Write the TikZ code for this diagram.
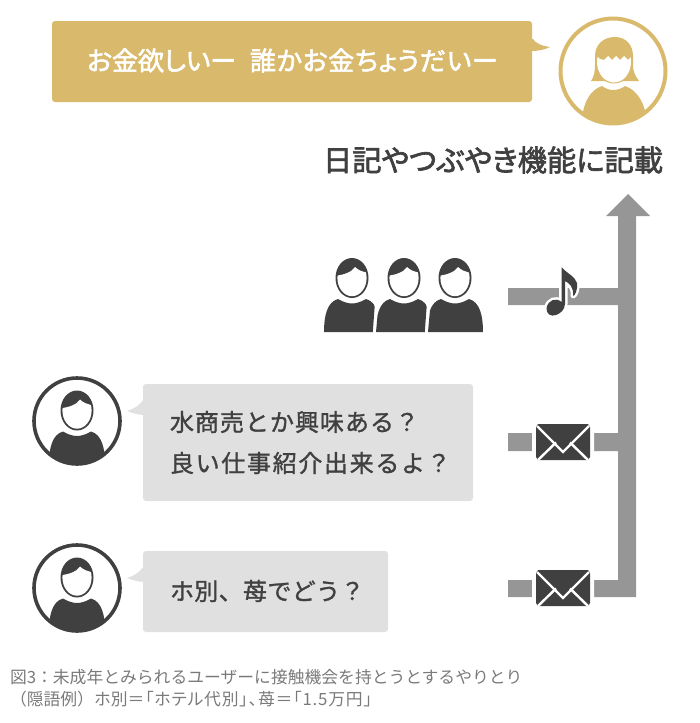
\documentclass[tikz,border=0pt]{standalone}
\usepackage{fontspec}
\setmainfont{Noto Sans CJK JP}
\newfontfamily\headfont[FakeBold=2.2,RawFeature=+palt]{Noto Sans CJK JP}
\newfontfamily\headwide[FakeBold=2.2,RawFeature=+palt,LetterSpace=2.7]{Noto Sans CJK JP}
\newfontfamily\talkfont[FakeBold=1.2,LetterSpace=4.2]{Noto Sans CJK JP}
\newfontfamily\talkwide[FakeBold=1.2,LetterSpace=7]{Noto Sans CJK JP}
\newfontfamily\talktight[FakeBold=1.2,LetterSpace=1.5]{Noto Sans CJK JP}
\newfontfamily\notefont{Noto Sans CJK JP}
\newfontfamily\notetight[RawFeature=+palt,LetterSpace=5]{Noto Sans CJK JP}
\definecolor{gold}{HTML}{D9B96B}
\definecolor{ink}{HTML}{404040}
\definecolor{barfill}{HTML}{969696}
\definecolor{paper}{HTML}{E0E0E0}
\definecolor{caption}{HTML}{7A7A7A}
\tikzset{
  txt/.style={inner sep=0pt,outer sep=0pt,anchor=west},
  pics/malehead/.style={code={
    \fill[ink] (0,0) ellipse [x radius=16.5,y radius=20];
    \begin{scope}
      \clip (-18,-2) .. controls (-8,-3) and (0,-6) .. (3,-11)
            .. controls (6,-8) and (10,-6) .. (18,-5) -- (18,22) -- (-18,22) -- cycle;
      \fill[white] (0,0) ellipse [x radius=14.6,y radius=18.2];
    \end{scope}
  }},
  pics/malebody/.style={code={
    \fill[#1] (-28,54) .. controls (-28,38) and (-25,24) .. (-14,21)
      .. controls (-9,24) and (-4,25.5) .. (0,25.5)
      .. controls (4,25.5) and (9,24) .. (14,21)
      .. controls (25,24) and (28,38) .. (28,54) -- cycle;
  }},
  pics/envelope/.style={code={
    \fill[ink,draw=white,line width=8pt,line join=round]
      (-25,-18) -- (25,-18) -- (27,-15) -- (27,15) -- (25,18)
      -- (-25,18) -- (-27,15) -- (-27,-15) -- cycle;
    \fill[ink] (-25,-18) -- (25,-18) -- (27,-15) -- (27,15) -- (25,18)
      -- (-25,18) -- (-27,15) -- (-27,-15) -- cycle;
    \draw[white,line width=2.4pt] (-26,-16) -- (0,10) -- (26,-16);
    \draw[white,line width=2.4pt] (-25,18) -- (-7,0.5);
    \draw[white,line width=2.4pt] (25,18) -- (7,0.5);
  }}
}
\begin{document}
\begin{tikzpicture}[x=1pt,y=-1pt]
\useasboundingbox (0,0) rectangle (700,723);

% post bubble at the top
\fill[gold,rounded corners=3pt] (52,21) rectangle (532,102);
\fill[gold] (531,39) -- (533,39) .. controls (535,43) and (542,46) .. (550,47)
  .. controls (544,50) and (538,51) .. (531,51) -- cycle;
\node[txt,text=white] (want) at (87,60.5)
  {\fontsize{26}{30}\headfont お金欲しいー\hspace{14pt}\headwide 誰かお金ちょうだいー};

% author portrait
\draw[gold,line width=4pt] (613,71) circle [radius=52.5];
\begin{scope}
  \clip (613,71) circle [radius=52];
  \fill[gold] (581,125) .. controls (583,102) and (590,90) .. (602,86)
    .. controls (606,89) and (610,90) .. (613,90)
    .. controls (617,90) and (621,89) .. (625,86)
    .. controls (637,90) and (645,102) .. (648,125) -- cycle;
\end{scope}
\fill[gold] (591,81) .. controls (594,77) and (595,72) .. (595,64)
  -- (595,56) .. controls (595,45) and (603,37) .. (615,37)
  .. controls (626,37) and (633,45) .. (633,56)
  -- (633,66) .. controls (633,72) and (636,77) .. (639,81) -- cycle;
\fill[gold] (614,65) ellipse [x radius=18,y radius=18.5];
\begin{scope}
  \clip (596,55.5) -- (600,59) -- (604,60) -- (608,56) -- (612,60) -- (616,56)
    -- (620,60) -- (624,56) -- (628,60) -- (632,55.5) -- (634,85) -- (594,85) -- cycle;
  \fill[white] (614,62) ellipse [x radius=17,y radius=20.5];
\end{scope}

\node[txt,text=ink] (headline) at (323,160)
  {\fontsize{29.3}{34}\headfont 日記やつぶやき機能に記載};

% spine arrow with its three branches
\coordinate (tip) at (628,194);
\fill[barfill] (tip) -- (650,216) -- (636,216) -- (636,597) -- (508,597) -- (508,580)
  -- (618,580) -- (618,451) -- (508,451) -- (508,433) -- (618,433)
  -- (618,305) -- (508,305) -- (508,288) -- (618,288) -- (618,216) -- (606,216) -- cycle;

% music note on the first branch
\def\notepath{(561.5,267) -- (561.5,302) .. controls (556,297) and (548,300) .. (546.5,308)
  .. controls (546,314) and (551,317) .. (556,315)
  .. controls (561,313) and (564.5,310) .. (565,304) -- (565,281)
  .. controls (569,283) and (574,287) .. (573,296)
  .. controls (575,296) and (578,289) .. (577,283)
  .. controls (575,276) and (566,273) .. (561.5,267) -- cycle}
\fill[white,draw=white,line width=5pt,line join=round] \notepath;
\fill[ink] \notepath;

% envelopes on the two lower branches
\pic at (563,442) {envelope};
\pic at (563,588) {envelope};

% audience of three
\pic at (352,278) {malehead};
\pic at (404,278) {malehead};
\pic at (455,278) {malehead};
\begin{scope}
  \clip (320,295) -- (375.5,295) -- (372.8,332) -- (320,332) -- cycle;
  \pic at (352,278) {malebody=ink};
\end{scope}
\begin{scope}
  \clip (372,295) -- (427.5,295) -- (424.8,332) -- (376,332) -- (378,310) -- cycle;
  \pic at (404,278) {malebody=ink};
\end{scope}
\begin{scope}
  \clip (431,295) -- (490,295) -- (490,332) -- (428,332) -- (430,310) -- cycle;
  \pic at (455,278) {malebody=ink};
\end{scope}

% first solicitor
\draw[ink,line width=3.6pt] (77,421) circle [radius=43];
\pic at (77,410.5) {malehead};
\begin{scope}
  \clip (77,421) circle [radius=42];
  \pic at (77,410.5) {malebody=ink};
\end{scope}
\fill[paper,rounded corners=3pt] (143,384) rectangle (473,501);
\fill[paper] (144,399) .. controls (140,405) and (134,409) .. (127,411)
  .. controls (133,413) and (138,415) .. (144,415) -- cycle;
\node[txt,text=ink] (lineA) at (170,422) {\fontsize{24}{28}\talkfont 水商売とか興味ある？};
\node[txt,text=ink] (lineB) at (170,463) {\fontsize{24}{28}\talkwide 良い仕事紹介出来るよ？};

% second solicitor
\draw[ink,line width=3.6pt] (77,588) circle [radius=43];
\pic at (77,577.5) {malehead};
\begin{scope}
  \clip (77,588) circle [radius=42];
  \pic at (77,577.5) {malebody=ink};
\end{scope}
\fill[paper,rounded corners=3pt] (143,551) rectangle (388,632);
\fill[paper] (144,566) .. controls (140,572) and (134,576) .. (127,578)
  .. controls (133,580) and (138,582) .. (144,582) -- cycle;
\node[txt,text=ink] (lineC) at (170,591) {\fontsize{24}{28}\talktight ホ別、苺でどう？};

% caption
\node[txt,text=caption] (capA) at (10,677)
  {\fontsize{16.8}{20}\notefont 図3：未成年とみられるユーザーに接触機会を持とうとするやりとり};
\node[txt,text=caption] (capB) at (10,699)
  {\fontsize{16.8}{20}\notefont （隠語例）ホ別\notetight ＝「ホテル代別」、苺＝「1.5万円」};
\end{tikzpicture}
\end{document}
